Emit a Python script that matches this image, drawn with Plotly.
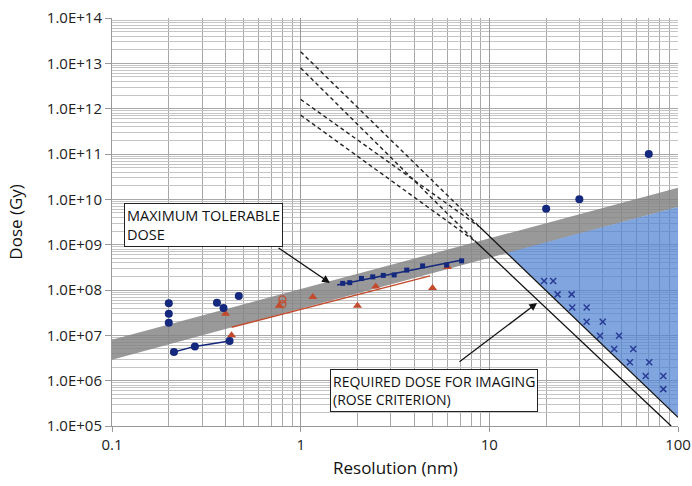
import plotly.graph_objects as go

# ---- data ----
band_x = [0.1, 100]
band_top = [8.0e6, 1.8e10]
band_bottom = [2.9e6, 6.8e9]

region_x = [12.4, 100, 100]
region_y = [6.6e8, 6.8e9, 1.6e5]

rose_upper_x = [8.9, 100]
rose_upper_y = [2.45e9, 1.55e5]
rose_lower_x = [8.5, 92]
rose_lower_y = [1.15e9, 1.0e5]

dashed_start_x = [1, 1, 1, 1]
dashed_start_y = [1.8e13, 7.9e12, 1.6e12, 7.2e11]
dashed_end_x = [8.9, 8.5, 8.9, 8.5]
dashed_end_y = [2.45e9, 1.15e9, 2.45e9, 1.15e9]

circles_x = [0.2, 0.2, 0.2, 0.36, 0.39, 0.47, 20, 30, 70]
circles_y = [5.1e7, 3.0e7, 1.9e7, 5.2e7, 4.0e7, 7.4e7, 6.2e9, 1.0e10, 1.0e11]

circle_line_x = [0.213, 0.275, 0.42]
circle_line_y = [4.3e6, 5.7e6, 7.5e6]

triangles_x = [0.40, 0.43, 0.77, 1.16, 2.0, 2.5, 5.0, 6.0]
triangles_y = [3.0e7, 1.0e7, 4.5e7, 7.0e7, 4.5e7, 1.2e8, 1.1e8, 3.2e8]

open_x = [0.8, 0.8]
open_y = [6.2e7, 4.9e7]

red_fit_x = [0.43, 4.85]
red_fit_y = [1.5e7, 2.05e8]

squares_x = [1.67, 1.82, 2.1, 2.41, 2.74, 3.13, 3.65, 4.43, 5.94, 7.13]
squares_y = [1.4e8, 1.45e8, 1.8e8, 1.95e8, 2.1e8, 2.15e8, 2.75e8, 3.4e8, 3.55e8, 4.4e8]

square_fit_x = [1.56, 7.16]
square_fit_y = [1.29e8, 4.6e8]

crosses_x = [19.5, 21.8, 23, 27.3, 27.5, 32.8, 32.8, 39.9, 38.6, 48.7,
             45.9, 57.9, 55.6, 70.4, 67.4, 83.6, 83.6]
crosses_y = [1.58e8, 1.58e8, 8e7, 8e7, 4.1e7, 4.1e7, 2e7, 2e7, 9.8e6, 9.8e6,
             5e6, 5e6, 2.55e6, 2.55e6, 1.27e6, 1.27e6, 6.5e5]

y_tickvals = [1e5, 1e6, 1e7, 1e8, 1e9, 1e10, 1e11, 1e12, 1e13, 1e14]
y_ticktext = ["1.0E+05", "1.0E+06", "1.0E+07", "1.0E+08", "1.0E+09",
              "1.0E+10", "1.0E+11", "1.0E+12", "1.0E+13", "1.0E+14"]
x_tickvals = [0.1, 1, 10, 100]
x_ticktext = ["0.1", "1", "10", "100"]

x_title = "Resolution (nm)"
y_title = "Dose (Gy)"

NAVY = "rgb(20,40,125)"
RED = "rgb(195,75,45)"
FONT = "Open Sans"

fig = go.Figure()

# gray band (maximum tolerable dose)
fig.add_trace(go.Scatter(
    x=band_x + band_x[::-1], y=band_top + band_bottom[::-1],
    fill="toself", fillcolor="rgba(130,130,130,0.82)", mode="lines",
    line=dict(width=0), hoverinfo="skip", showlegend=False))

# blue imaging region
fig.add_trace(go.Scatter(
    x=region_x + region_x[:1], y=region_y + region_y[:1],
    fill="toself", fillcolor="rgba(80,130,210,0.72)", mode="lines",
    line=dict(width=0), hoverinfo="skip", showlegend=False))

# dashed lines
for i in range(len(dashed_start_x)):
    fig.add_trace(go.Scatter(
        x=[dashed_start_x[i], dashed_end_x[i]], y=[dashed_start_y[i], dashed_end_y[i]],
        mode="lines", line=dict(color="#222", width=1.4, dash="4px,3px"),
        showlegend=False, hoverinfo="skip"))

# solid rose-criterion lines
fig.add_trace(go.Scatter(x=rose_upper_x, y=rose_upper_y, mode="lines",
                         line=dict(color="#111", width=1.3), showlegend=False))
fig.add_trace(go.Scatter(x=rose_lower_x, y=rose_lower_y, mode="lines",
                         line=dict(color="#111", width=1.3), showlegend=False))

# red fit line
fig.add_trace(go.Scatter(x=red_fit_x, y=red_fit_y, mode="lines",
                         line=dict(color=RED, width=1.5), showlegend=False))

# triangles
fig.add_trace(go.Scatter(x=triangles_x, y=triangles_y, mode="markers",
                         marker=dict(symbol="triangle-up", size=8, color=RED),
                         showlegend=False))
fig.add_trace(go.Scatter(x=open_x, y=open_y, mode="markers",
                         marker=dict(symbol="circle-open", size=7, color=RED,
                                     line=dict(width=1.3)),
                         showlegend=False))

# square fit line and squares
fig.add_trace(go.Scatter(x=square_fit_x, y=square_fit_y, mode="lines",
                         line=dict(color=NAVY, width=1.5), showlegend=False))
fig.add_trace(go.Scatter(x=squares_x, y=squares_y, mode="markers",
                         marker=dict(symbol="square", size=5, color=NAVY),
                         showlegend=False))

# circles
fig.add_trace(go.Scatter(x=circle_line_x, y=circle_line_y, mode="lines+markers",
                         line=dict(color=NAVY, width=1.5),
                         marker=dict(symbol="circle", size=8, color=NAVY),
                         showlegend=False))
fig.add_trace(go.Scatter(x=circles_x, y=circles_y, mode="markers",
                         marker=dict(symbol="circle", size=8, color=NAVY),
                         showlegend=False))

# crosses
fig.add_trace(go.Scatter(x=crosses_x, y=crosses_y, mode="markers",
                         marker=dict(symbol="x-thin", size=6, color="rgb(40,60,150)",
                                     line=dict(width=1.5, color="rgb(40,60,150)")),
                         showlegend=False))

# annotations
fig.add_annotation(x=-0.936, y=9.92, xref="x", yref="y", xanchor="left", yanchor="top",
                   text="MAXIMUM TOLERABLE<br>DOSE", align="left", showarrow=False,
                   font=dict(family=FONT, size=14.5, color="#111"),
                   bgcolor="white", bordercolor="#222", borderwidth=1, borderpad=2)
fig.add_annotation(x=0.155, y=6.257, xref="x", yref="y", xanchor="left", yanchor="top",
                   text="REQUIRED DOSE FOR IMAGING<br>(ROSE CRITERION)", align="left",
                   showarrow=False, font=dict(family=FONT, size=14, color="#111"),
                   bgcolor="white", bordercolor="#222", borderwidth=1, borderpad=2)
fig.add_annotation(x=0.155, y=8.155, ax=-0.125, ay=8.95, xref="x", yref="y",
                   axref="x", ayref="y", text="", showarrow=True,
                   arrowhead=2, arrowsize=1.2, arrowwidth=1.3, arrowcolor="#111")
fig.add_annotation(x=1.253, y=7.713, ax=0.834, ay=6.39, xref="x", yref="y",
                   axref="x", ayref="y", text="", showarrow=True,
                   arrowhead=2, arrowsize=1.2, arrowwidth=1.3, arrowcolor="#111")

# axis titles
fig.add_annotation(x=0.5, y=-0.101, xref="paper", yref="paper", xanchor="center",
                   yanchor="middle", text=x_title, showarrow=False,
                   font=dict(family=FONT, size=17, color="#111"))
fig.add_annotation(x=-0.172, y=0.5, xref="paper", yref="paper", xanchor="center",
                   yanchor="middle", text=y_title, showarrow=False, textangle=-90,
                   font=dict(family=FONT, size=17, color="#111"))

fig.update_xaxes(type="log", range=[-1, 2], tickvals=x_tickvals, ticktext=x_ticktext,
                 showgrid=True, gridcolor="#9a9a9a", gridwidth=1,
                 minor=dict(showgrid=True, gridcolor="#a8a8a8", gridwidth=1, dtick="D1"),
                 showline=True, linecolor="#999", ticks="outside", ticklen=5,
                 tickcolor="#999", zeroline=False, automargin=False,
                 tickfont=dict(family=FONT, size=15, color="#222"))
fig.update_yaxes(type="log", range=[5, 14], tickvals=y_tickvals, ticktext=y_ticktext,
                 showgrid=True, gridcolor="#a8a8a8", gridwidth=1,
                 minor=dict(showgrid=True, gridcolor="#c4c4c4", gridwidth=1, dtick="D1"),
                 showline=True, linecolor="#999", ticks="outside", ticklen=6,
                 tickcolor="#999", zeroline=False, automargin=False,
                 tickfont=dict(family=FONT, size=15, color="#222"))

fig.update_layout(width=692, height=486, margin=dict(l=112, r=14, t=18, b=60),
                  plot_bgcolor="white", paper_bgcolor="white", showlegend=False)

fig.write_html("out.html")
